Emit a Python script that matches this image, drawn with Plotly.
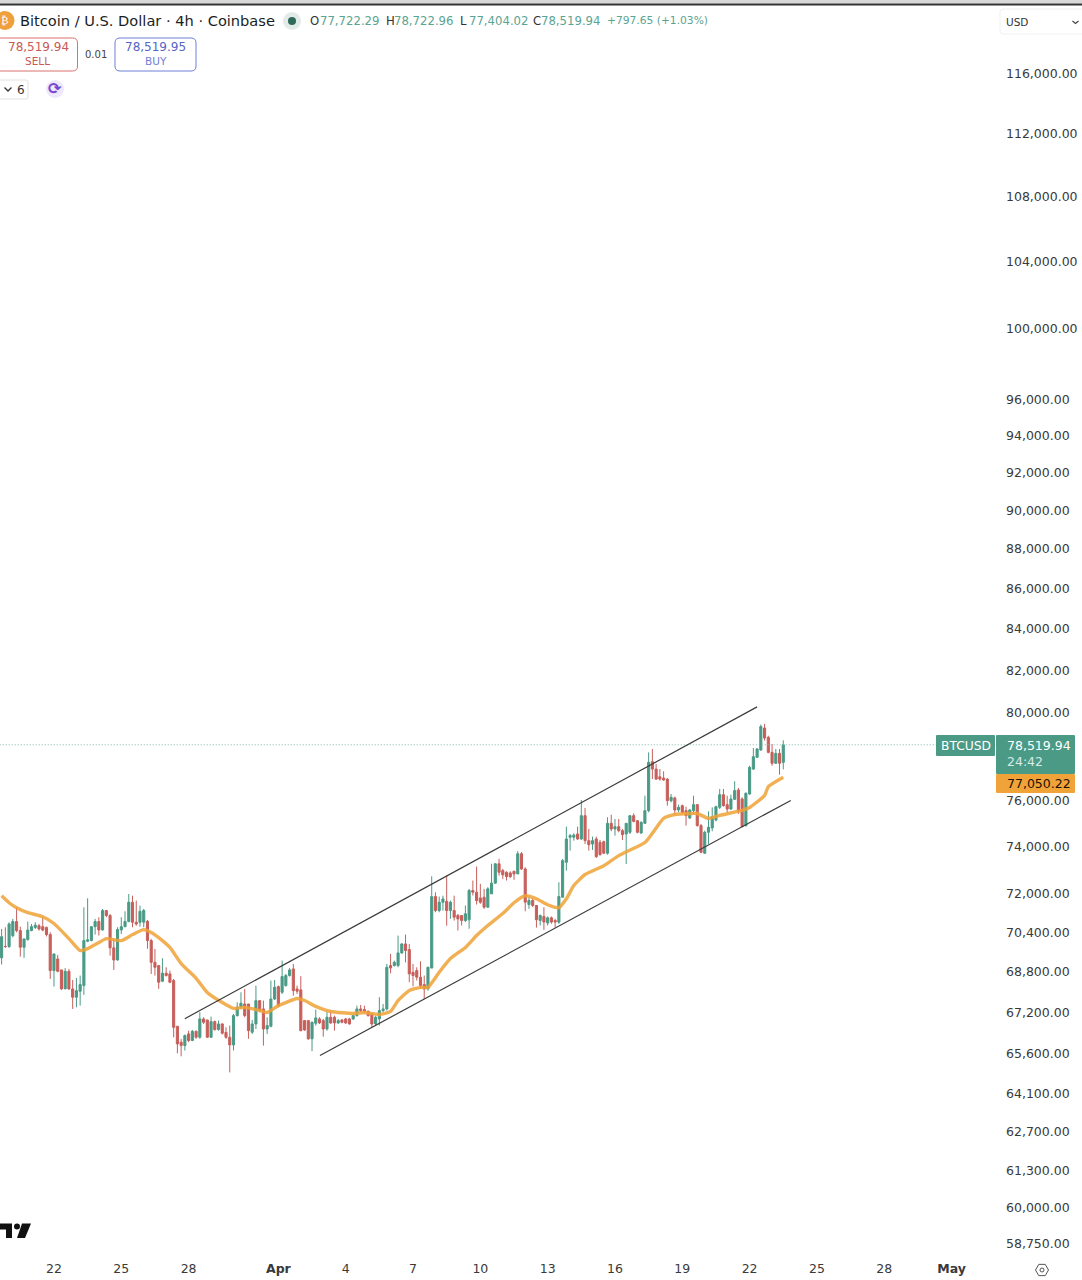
import math
import pandas as pd
import plotly.graph_objects as go

W, H = 1082, 1280
bar_start = "2026-03-19 16:00"
opens = [69370,69830,69830,70270,70850,70480,69800,70110,70480,70610,
70680,70640,70610,70315,68860,69325,68885,68130,68830,68130,
67800,68035,68260,70045,70070,70640,70850,70505,71305,71100,
69775,69285,70505,70640,70850,71650,70820,70820,70820,70860,
70070,69190,69060,68435,68755,68725,68460,66665,66050,65920,
66370,66115,66470,66240,66950,66910,66240,66845,66535,66755,
66430,66240,65945,67080,67405,67535,67535,66435,66755,67665,
67340,66560,66665,67730,68220,67995,68260,68660,68925,68130,
68090,66885,66885,66180,66780,66950,66885,66560,67015,67015,
66795,66910,66950,66950,66950,67080,67340,67315,67250,67145,
66755,66950,67275,67340,69060,69060,69060,69570,69935,69705,
68790,68860,68595,68300,68130,68960,71885,71305,71650,71690,
71305,71305,71100,71100,70895,70925,72140,72070,71830,71860,
71445,72000,72450,73270,72980,72910,72880,72950,72840,73700,
73050,71555,71725,71515,70895,71060,70790,71005,70895,70825,
71857,73335,74408,74408,74552,74336,75350,74264,74120,74336,
74190,74220,73720,75015,74770,74870,74697,74552,74625,75350,
75130,74596,75015,75570,77755,77420,77075,77015,76970,76010,
76130,75600,75790,75570,75248,75570,75835,74915,73720,74625,
74813,75160,75715,76275,75835,75640,76070,76485,76085,74915,
76305,77420,77950,78282,79290,78860,78175,77680,78130,77722.29]
highs = [70545,70613,70820,70960,71440,70640,70140,70850,70750,70820,
70750,71055,70640,70410,69530,69490,68885,68960,68925,68485,
68565,68660,71440,71815,70640,70960,71030,71370,71330,71165,
70140,70615,71030,71275,71995,71925,71720,71510,71370,70915,
70140,69730,69060,69355,68990,68860,68525,66665,66175,66345,
66495,66525,66495,67210,67015,66910,67040,66885,66885,66780,
66625,66690,67145,67600,67995,68130,67535,66910,68260,67690,
67665,67015,68460,68485,68260,69258,68725,68965,69125,68260,
68635,66910,66885,66845,67315,67015,66950,67250,67275,67080,
66950,66950,66990,66990,67120,67470,67495,67470,67275,67170,
67080,67800,67535,69125,69530,69258,70275,69960,70315,69935,
69125,68990,69230,68660,69020,72740,72065,71885,71925,72770,
71720,71925,71165,71100,71515,72210,72560,73155,72420,72210,
72280,73270,73295,73485,73055,72950,72950,72980,73810,73770,
73125,71860,71810,71515,71140,71445,71060,71060,70965,72487,
73475,74870,74552,74580,74870,76040,75690,74770,74437,74437,
74293,74264,75277,75395,75205,75205,74770,75015,75350,75453,
75160,75100,76230,78175,78327,77650,77420,77320,77015,76305,
76190,75835,75835,75745,75640,76230,75865,74986,74697,75540,
75715,75790,76530,76530,76230,76275,76870,76573,76160,76380,
77570,78370,78370,79450,79480,78935,78555,78327,78327,78722.96]
lows = [69100,69770,69770,70205,70410,69420,69370,70070,70450,70545,
70480,70450,70240,68525,68220,68790,68090,68130,68090,67340,
67405,67470,67890,70005,70045,70315,70275,70480,71030,69460,
68885,69260,70340,70615,70820,70615,70680,70640,70615,69735,
68725,68660,68130,68395,68620,68355,66240,65625,65510,65730,
66050,66090,66180,66180,66755,66215,66215,66495,66495,66345,
66180,64900,65730,67040,67340,67015,66180,66370,66560,67210,
65920,66370,66625,67690,67405,67928,68220,68620,67860,67930,
66470,66495,66140,65705,66690,66755,66265,66495,66755,66495,
66755,66780,66755,66730,66910,67040,67210,67170,67040,66625,
66690,66690,67210,67275,68750,69020,68990,69530,69190,68395,
68230,68460,68130,67730,68060,68960,71235,71235,71305,70680,
70960,70890,70480,70690,70830,70555,71930,71555,71585,71375,
71415,72000,72420,72770,72630,72560,72670,72590,72840,73010,
71275,71375,71445,70600,70690,70510,70690,70760,70600,70755,
71857,72980,73833,74264,74293,74293,74120,73833,73860,73520,
73620,73690,73660,74668,74480,74625,74293,73263,74552,75060,
74580,74552,74986,75497,76970,76930,76900,76900,75790,75935,
75395,75497,75425,74915,75205,75425,74870,73720,73690,74120,
74668,75100,75640,75745,75497,75600,76040,75425,74842,74870,
76275,77378,77920,78251,78710,78130,77570,77650,77165,77404.02]
closes = [70230,69830,70750,70850,70480,69800,70140,70500,70640,70700,
70545,70500,70315,68860,69530,68830,68130,68830,68130,67800,
68060,68300,70070,70100,70640,70850,70505,71305,71100,69775,
69285,70520,70640,70850,71650,70820,70750,71275,71305,70070,
69190,68990,68395,68755,68660,68395,66625,65985,65920,66305,
66115,66470,66240,66950,66820,66240,66845,66535,66755,66395,
66240,65945,67080,67405,67565,67080,66495,66755,67665,67275,
66560,66690,67730,68195,67470,68620,68660,68885,68060,68035,
66495,66520,66180,66820,66990,66795,66560,67015,66795,66795,
66885,66820,66795,66755,67080,67340,67275,67250,67080,66755,
67015,67275,67340,68990,68965,69190,69570,69935,69665,68725,
68660,68595,68260,68130,68990,71885,71305,71650,71790,71305,
71650,71030,70960,70895,71170,72140,72070,71720,71650,71445,
72210,72450,73270,72910,72800,72725,72725,72840,73700,73050,
71655,71725,71515,70925,71100,70830,71005,70830,70830,71885,
73405,74336,74480,74509,74336,75350,74264,74090,74264,73575,
73660,73720,75015,74770,74870,74697,74523,75015,75350,75100,
74625,75060,75570,77725,77420,76970,76970,76930,76010,76160,
75600,75715,75497,75350,75600,75835,74915,73760,74625,74842,
75306,75745,76275,75790,75640,76085,76455,75570,74870,76335,
77497,77980,78327,79355,78830,78175,77680,78130,77680,78519.94]

ema_bar = [0,2,4,7,11,14,18,21,23,26,28,32,35,38,40,43,45,48,52,55,59,62,65,69,71,74,76,79,81,84,
88,94,97,101,104,106,109,112,114,117,120,124,127,130,134,137,140,143,146,149,151,153,156,161,165,
172,174,177,180,184,186,189,192,198,200,204,205,209]
ema_val = [71920,71630,71420,71220,71050,70770,70150,69665,69745,69990,70150,70070,70315,70520,70400,
70070,69790,69140,68550,67990,67590,67360,67400,67280,67200,67470,67590,67750,67670,67440,
67240,67160,67200,67120,67240,67670,68070,68190,68190,68790,69340,69790,70275,70685,71180,71630,
71920,71795,71545,71420,71795,72350,72815,73190,73620,74185,74580,75230,75400,75445,75445,75230,
75360,75580,75710,76240,76630,77050.22]

upper_dates = ["2026-03-27 20:00", "2026-04-22 08:00"]
upper_vals = [66960, 80270]
lower_dates = ["2026-04-02 20:30", "2026-04-23 20:00"]
lower_vals = [65540, 76020]

y_ticks = [116000,112000,108000,104000,100000,96000,94000,92000,90000,88000,86000,84000,82000,80000,
76000,74000,72000,70400,68800,67200,65600,64100,62700,61300,60000,58750]
x_tick_dates = ["2026-03-22","2026-03-25","2026-03-28","2026-04-01","2026-04-04","2026-04-07","2026-04-10",
"2026-04-13","2026-04-16","2026-04-19","2026-04-22","2026-04-25","2026-04-28","2026-05-01"]
x_tick_text = ["22","25","28","<b>Apr</b>","4","7","10","13","16","19","22","25","28","<b>May</b>"]
last_price = 78519.94

UP, DOWN = "#4a9a86", "#c75f5b"
ORANGE = "#f0a338"
FONT = "DejaVu Sans"
dates = pd.date_range(bar_start, periods=len(opens), freq="4h")

fig = go.Figure()
fig.add_trace(go.Scatter(x=["2026-03-19 14:00", "2026-05-03 00:00"], y=[last_price, last_price], mode="lines",
                         line=dict(color="#7fb8aa", width=1, dash="1px 2px"), hoverinfo="skip"))
fig.add_trace(go.Candlestick(x=dates, open=opens, high=highs, low=lows, close=closes,
    increasing=dict(line=dict(color=UP, width=1), fillcolor=UP),
    decreasing=dict(line=dict(color=DOWN, width=1), fillcolor=DOWN)))
fig.add_trace(go.Scatter(x=[dates[i] for i in ema_bar], y=ema_val, mode="lines",
                         line=dict(color=ORANGE, width=3.4, shape="spline", smoothing=0.5), opacity=0.85))
for xs, ys in ((upper_dates, upper_vals), (lower_dates, lower_vals)):
    fig.add_trace(go.Scatter(x=xs, y=ys, mode="lines", line=dict(color="#3c3c3c", width=1.2)))

def fx(x): return x / W
def fy(y): return 1 - y / H
def P(x, y): return f"{fx(x):.5f},{fy(y):.5f}"

shapes, annos = [], []
def rect(x0, y0, x1, y1, fill="rgba(0,0,0,0)", line=None, r=0, lw=1):
    if r:
        path = (f"M{P(x0+r,y0)} L{P(x1-r,y0)} Q{P(x1,y0)} {P(x1,y0+r)} L{P(x1,y1-r)} Q{P(x1,y1)} {P(x1-r,y1)} "
                f"L{P(x0+r,y1)} Q{P(x0,y1)} {P(x0,y1-r)} L{P(x0,y0+r)} Q{P(x0,y0)} {P(x0+r,y0)} Z")
        shapes.append(dict(type="path", path=path, xref="paper", yref="paper", fillcolor=fill,
                           line=dict(color=line or fill, width=lw if line else 0)))
    else:
        shapes.append(dict(type="rect", xref="paper", yref="paper", x0=fx(x0), x1=fx(x1), y0=fy(y0), y1=fy(y1),
                           fillcolor=fill, line=dict(color=line or fill, width=lw if line else 0)))
def circle(cx, cy, r, fill, line=None, lw=1):
    shapes.append(dict(type="circle", xref="paper", yref="paper", x0=fx(cx-r), x1=fx(cx+r), y0=fy(cy-r), y1=fy(cy+r),
                       fillcolor=fill, line=dict(color=line or fill, width=lw if line else 0)))
def poly(pts, fill=None, line=None, lw=1, closed=True):
    path = "M" + " L".join(P(a, b) for a, b in pts) + (" Z" if closed else "")
    shapes.append(dict(type="path", path=path, xref="paper", yref="paper", fillcolor=fill or "rgba(0,0,0,0)",
                       line=dict(color=line or fill, width=lw if line else 0)))
def text(t, x, y, size=12.5, color="#333333", anchor="left", font=FONT):
    annos.append(dict(text=t, x=fx(x), y=fy(y), xref="paper", yref="paper", xanchor=anchor, yanchor="middle",
                      showarrow=False, borderpad=0, font=dict(family=font, size=size, color=color)))

# top rule
rect(0, 0, W, 3.5, fill="#d8d8d8")
rect(0, 3.5, W, 5.5, fill="#333333")
# header
circle(5, 20.5, 9.5, "#f0a03a")
text("₿", 5, 20.5, 11, "#ffffff", "center")
text("Bitcoin / U.S. Dollar · 4h · Coinbase", 19, 21, 14.6, "#1a1d26")
circle(292, 21, 9, "#e3ebe8")
circle(292, 21, 4, "#2d6a59")
TEAL = "#5aa493"
for lab, lx, val, vx in (("O",309,"77,722.29",319),("H",385,"78,722.96",393),("L",459,"77,404.02",468),("C",532,"78,519.94",540)):
    text(lab, lx, 21, 11.7, "#333333")
    text(val, vx, 21, 11.7, TEAL)
text("+797.65 (+1.03%)", 606, 21, 10.7, TEAL)
# sell / buy
rect(-4, 38, 77.5, 71, fill="#ffffff", line="#d9726f", r=5)
text("78,519.94", 38, 47, 12, "#c85a56", "center")
text("SELL", 37, 61, 10.5, "#c85a56", "center")
text("0.01", 96, 54, 10, "#444444", "center")
rect(115, 38, 196, 71, fill="#ffffff", line="#6f7fd6", r=5)
text("78,519.95", 155.5, 47, 12, "#5566c4", "center")
text("BUY", 155.5, 61, 10.5, "#6f7fd6", "center")
rect(-4, 80, 28, 99, fill="#ffffff", line="#e2e2e2", r=2)
poly([(4.5,87.5),(8,91),(11.5,87.5)], line="#333333", lw=1.3, closed=False)
text("6", 20.5, 89.5, 12, "#333333", "center")
circle(55, 89, 9, "#efe7fb")
text("<b>⟳</b>", 55, 88.5, 16, "#7646d0", "center")
# currency selector
rect(1000, 9, 1090, 34, fill="#ffffff", line="#f1f1f1", r=3)
text("USD", 1005, 22, 10.5, "#333333")
poly([(1072.5,21),(1075.5,23.5),(1078.5,21)], line="#444444", lw=1.2, closed=False)
# last price tags
rect(936, 735, 995, 756, fill=UP, r=1)
text("BTCUSD", 965.5, 745.5, 12.3, "#ffffff", "center")
rect(996, 735, 1075, 774, fill=UP, r=1)
text("78,519.94", 1005.5, 745, 12.5, "#ffffff")
text("24:42", 1005.5, 761, 12.5, "#d5ece6")
rect(996, 774, 1075, 793, fill=ORANGE, r=1)
text("77,050.22", 1005.5, 783, 12.5, "#1c1205")
# logo
poly([(0,1223.5),(12,1223.5),(12,1238),(6,1238),(6,1229.5),(0,1229.5)], fill="#111111")
circle(17, 1226.5, 3, "#111111")
poly([(22,1223.5),(31,1223.5),(25,1238),(17,1238)], fill="#111111")
# settings
r = 6.5
poly([(1042 + r*math.cos(math.radians(a)), 1270 + r*math.sin(math.radians(a))) for a in range(0, 360, 60)],
     line="#555555", lw=1)
circle(1042, 1270, 2, "rgba(0,0,0,0)", line="#555555", lw=1)

fig.update_layout(
    width=W, height=H, autosize=False, showlegend=False, paper_bgcolor="#ffffff", plot_bgcolor="#ffffff",
    margin=dict(l=0, r=0, t=0, b=0, pad=0), shapes=shapes, annotations=annos,
    boxgap=0.25, boxgroupgap=0.25,
    font=dict(family=FONT, size=12.5, color="#3a3a3a"),
    xaxis=dict(type="date", domain=[0, 996/W], range=["2026-03-19 14:17", "2026-05-02 23:30"], rangeslider=dict(visible=False),
               tickmode="array", tickvals=x_tick_dates, ticktext=x_tick_text, ticks="", showgrid=False, zeroline=False,
               showline=False, tickangle=0, automargin=False, ticklabelstandoff=3,
               tickfont=dict(family=FONT, size=12.5, color="#3a3a3a")),
    yaxis=dict(type="log", domain=[(H-1256)/H, (H-6)/H], range=[math.log10(58328), math.log10(120659)], side="right",
               tickmode="array", tickvals=y_ticks, tickformat=",.2f", ticks="", showgrid=False, zeroline=False,
               showline=False, automargin=False, ticklabelstandoff=9,
               tickfont=dict(family=FONT, size=12.5, color="#3a3a3a")),
)
fig.write_html("out.html", config=dict(displayModeBar=False),
               post_script="document.body.style.margin='0';document.body.style.overflow='hidden';")
